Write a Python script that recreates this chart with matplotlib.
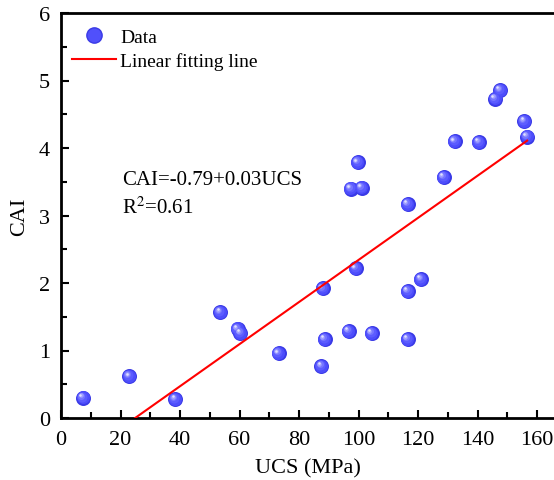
import matplotlib
matplotlib.use("Agg")
import matplotlib.pyplot as plt
import matplotlib.transforms as mtransforms
from matplotlib.lines import Line2D
import numpy as np

# data
ucs = [7.4, 22.9, 38.4, 53.5, 59.3, 60.3, 73.1, 87.5, 87.9, 88.6, 96.6, 104.4,
       99.0, 116.5, 116.5, 120.9, 116.5, 97.3, 101.0, 99.7, 128.6, 132.3,
       140.4, 145.8, 147.5, 155.6, 156.6]
cai = [0.30, 0.62, 0.28, 1.57, 1.32, 1.26, 0.96, 0.77, 1.92, 1.17, 1.29, 1.26,
       2.22, 1.17, 1.88, 2.06, 3.17, 3.40, 3.41, 3.79, 3.57, 4.10,
       4.09, 4.73, 4.86, 4.40, 4.17]
fit_x = [24.9, 156.6]
fit_intercept = -0.777
fit_slope = 0.0312

plt.rcParams['font.family'] = ['Liberation Serif', 'DejaVu Serif']
plt.rcParams['mathtext.fontset'] = 'stix'

fig = plt.figure(figsize=(5.54, 4.81), dpi=100)
ax = fig.add_axes([61/554, 62/481, 1.0 - 61/554 + 0.002, (419-14)/481])

# sphere-like markers: layered discs, the lighter ones shifted up-left
layers = [
    (15.0, '#3a3ae6', 0.0, 0.0),
    (13.0, '#4d4dfb', -0.3, 0.3),
    (10.0, '#5c5cff', -0.8, 0.8),
    (7.0, '#7676ff', -1.3, 1.3),
    (4.5, '#a0a0ff', -1.7, 1.7),
    (2.5, '#e0e0ff', -1.9, 1.9),
]
for ms, col, dx, dy in layers:
    tr = mtransforms.offset_copy(ax.transData, fig=fig, x=dx, y=dy, units='points')
    ax.plot(ucs, cai, 'o', ms=ms * 0.72, color=col, mec='none', transform=tr, zorder=3)

fx = np.array(fit_x)
ax.plot(fx, fit_intercept + fit_slope * fx, color='red', lw=1.5, zorder=4)

ax.set_xlim(0, 166)
ax.set_ylim(0, 6)
ax.set_xticks([0, 20, 40, 60, 80, 100, 120, 140, 160])
ax.set_yticks([0, 1, 2, 3, 4, 5, 6])
ax.set_xticks(np.arange(10, 166, 20), minor=True)
ax.set_yticks(np.arange(0.5, 6, 1), minor=True)
ax.tick_params(which='both', direction='in', width=1.5, labelsize=16, top=False, right=False)
ax.tick_params(which='major', length=6)
ax.tick_params(which='minor', length=4)
ax.tick_params(axis='x', which='major', pad=9)
ax.tick_params(axis='y', which='major', pad=8)
for s in ['left', 'bottom', 'top']:
    ax.spines[s].set_linewidth(2)
ax.spines['right'].set_visible(False)

ax.set_xlabel('UCS (MPa)', fontsize=16, labelpad=6)
ax.set_ylabel('CAI', fontsize=16, labelpad=7)

ax.text(20.6, 3.53, 'CAI=-0.79+0.03UCS', fontsize=15, va='center')
ax.text(20.6, 3.12, 'R$^2$=0.61', fontsize=15, va='center')

h_data = Line2D([], [], ls='none', marker='o', ms=11, color='#5050fb', mec='#3a3ae6')
h_line = Line2D([], [], color='red', lw=1.5)
ax.legend([h_data, h_line], ['Data', 'Linear fitting line'], loc='upper left',
          bbox_to_anchor=(0.0, 0.988), frameon=False, fontsize=14,
          handlelength=2.3, handletextpad=0.2, labelspacing=0.29,
          borderaxespad=0.15, borderpad=0.4)

fig.savefig('out.png', dpi=100)
